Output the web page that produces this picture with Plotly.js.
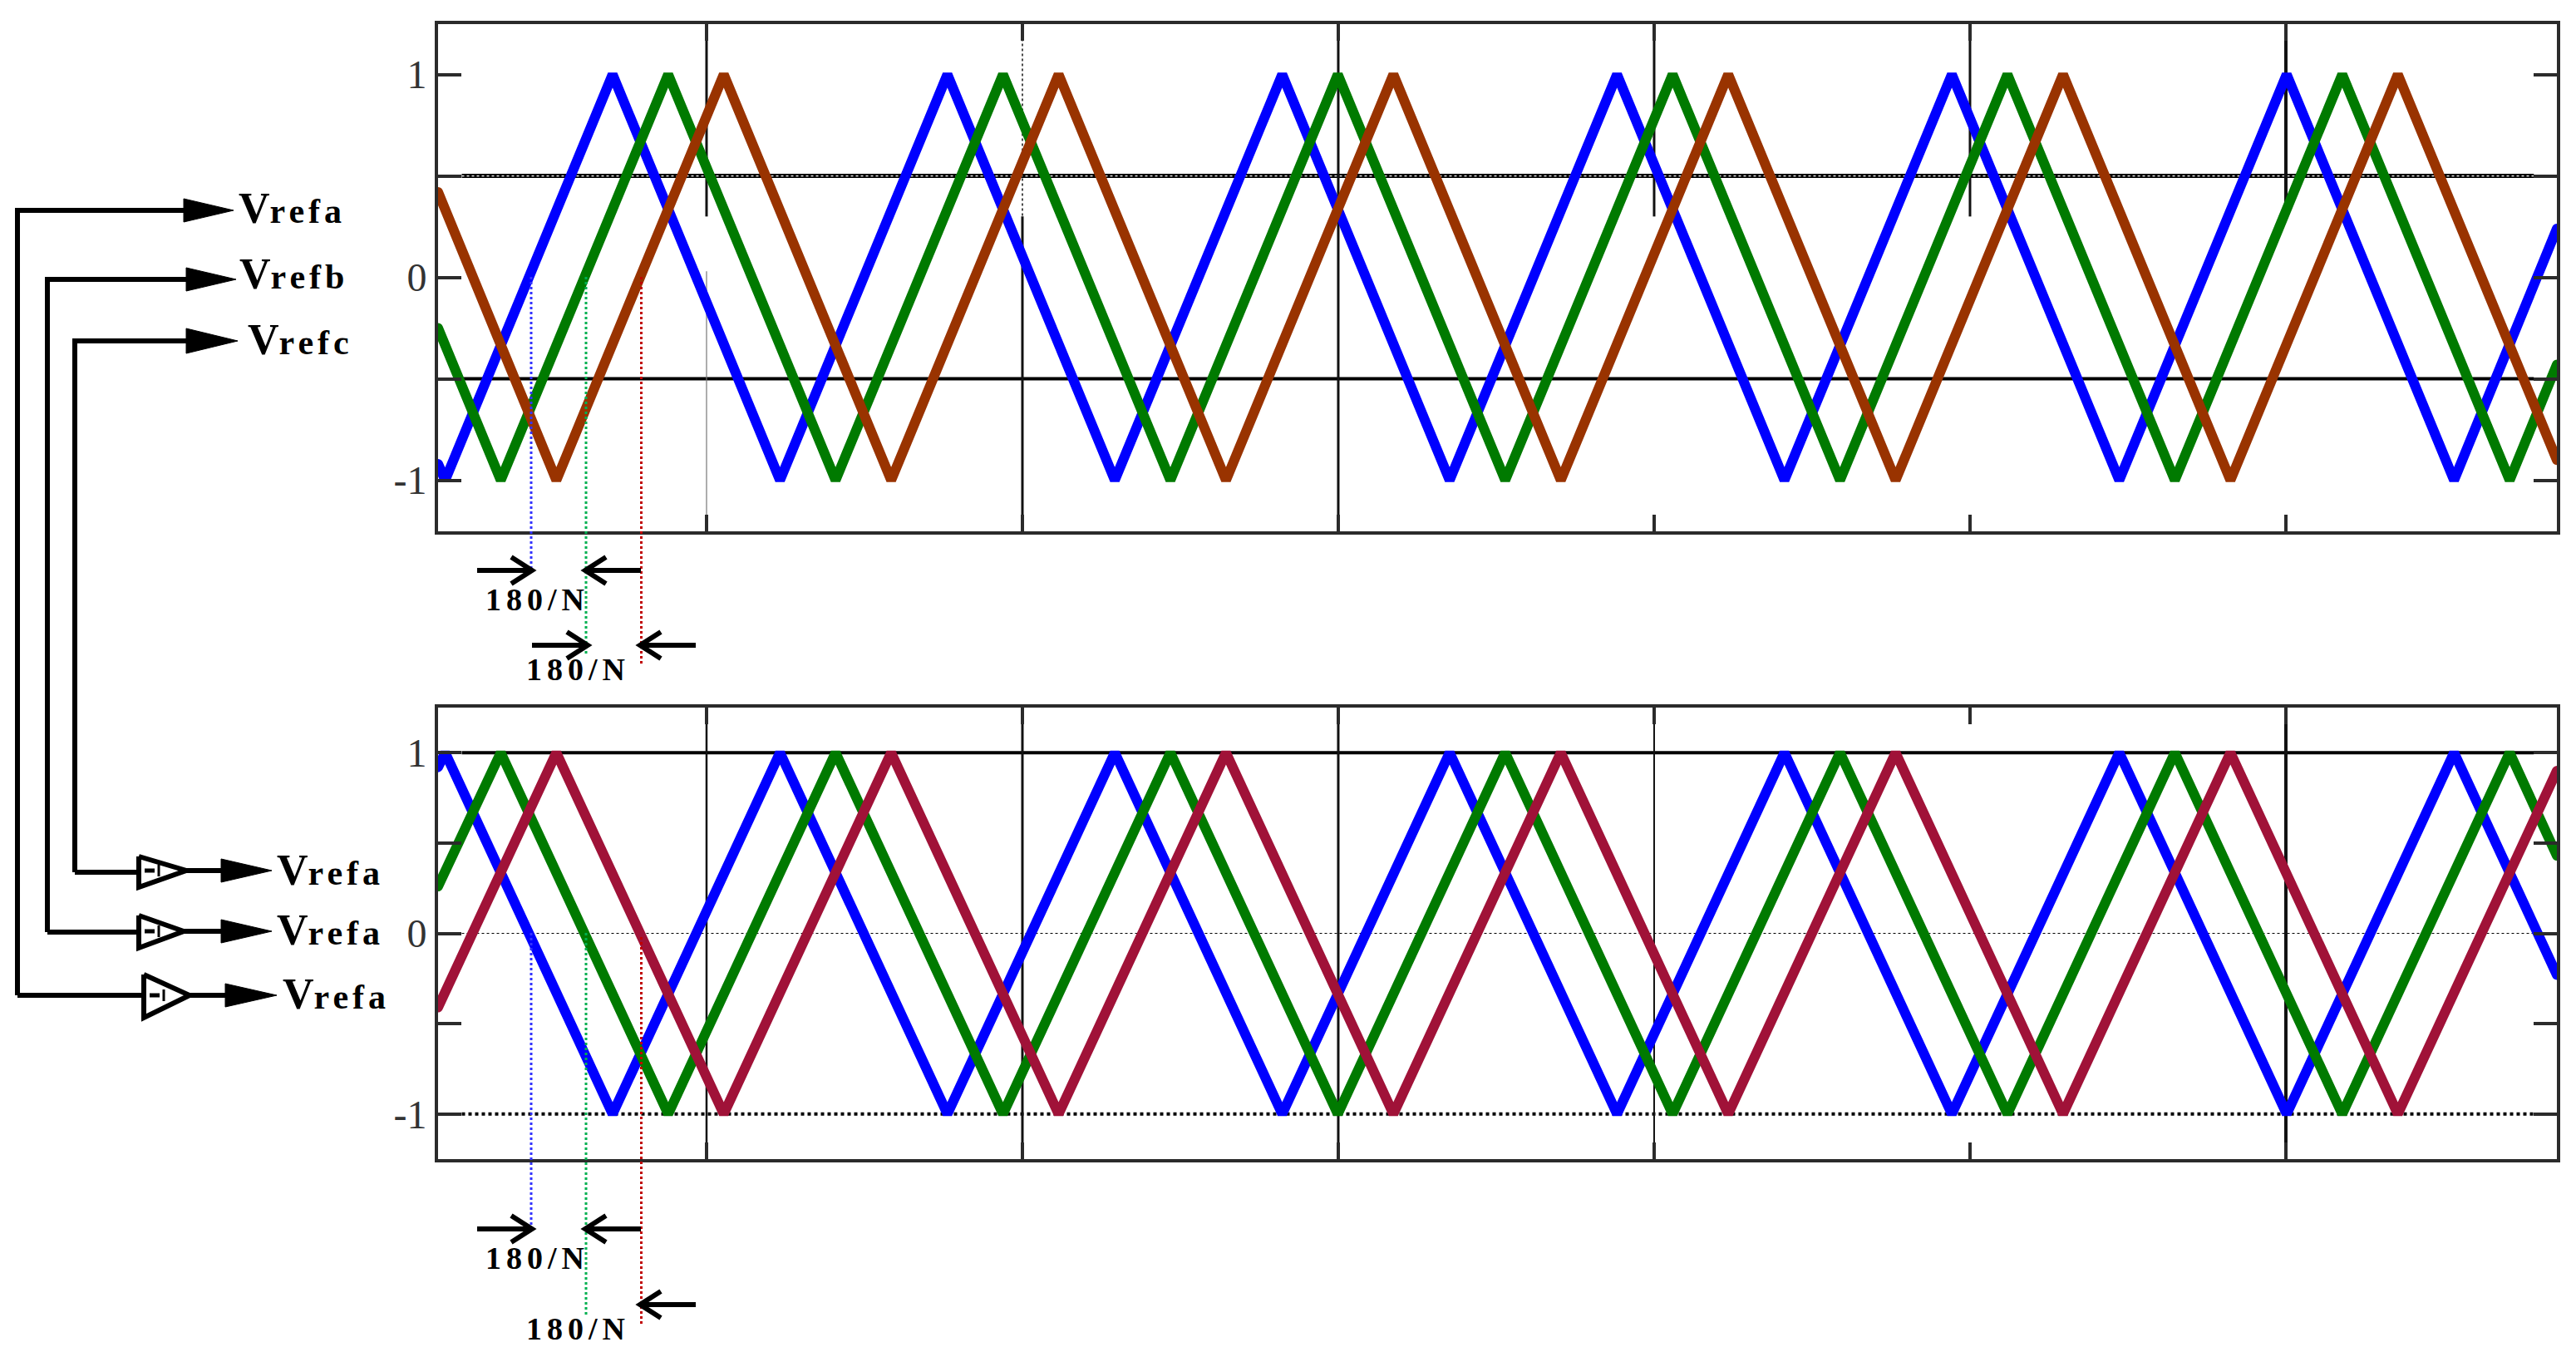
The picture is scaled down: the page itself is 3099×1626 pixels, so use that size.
<!DOCTYPE html>
<html>
<head>
<meta charset="utf-8">
<script src="https://cdn.plot.ly/plotly-3.0.1.min.js"></script>
<style>
html, body { margin: 0; padding: 0; background: #fff; }
#chart { width: 3099px; height: 1626px; }
.js-line { stroke-linecap: round; }
</style>
</head>
<body>
<div id="chart"></div>
<script>
const PAGE_W = 3099;
const PAGE_H = 1626;

// upper panel, vertices
const blueTopX = [0, 0.45, 11.05, 21.65, 32.25, 42.85, 53.45, 64.05, 74.65, 85.25, 95.85, 106.45, 117.05, 127.65, 134.16];
const blueTopY = [-0.92, -1, 1, -1, 1, -1, 1, -1, 1, -1, 1, -1, 1, -1, 0.24];
const greenTopX = [0, 3.97, 14.57, 25.17, 35.77, 46.37, 56.97, 67.57, 78.17, 88.77, 99.37, 109.97, 120.57, 131.17, 134.16];
const greenTopY = [-0.25, -1, 1, -1, 1, -1, 1, -1, 1, -1, 1, -1, 1, -1, -0.43];
const brownTopX = [0, 7.49, 18.09, 28.69, 39.29, 49.89, 60.49, 71.09, 81.69, 92.29, 102.89, 113.49, 124.09, 134.16];
const brownTopY = [0.42, -1, 1, -1, 1, -1, 1, -1, 1, -1, 1, -1, 1, -0.9];

// lower panel
const blueBotX = [0, 0.45, 11.05, 21.65, 32.25, 42.85, 53.45, 64.05, 74.65, 85.25, 95.85, 106.45, 117.05, 127.65, 134.16];
const blueBotY = [0.92, 1, -1, 1, -1, 1, -1, 1, -1, 1, -1, 1, -1, 1, -0.23];
const greenBotX = [0, 3.97, 14.57, 25.17, 35.77, 46.37, 56.97, 67.57, 78.17, 88.77, 99.37, 109.97, 120.57, 131.17, 134.16];
const greenBotY = [0.26, 1, -1, 1, -1, 1, -1, 1, -1, 1, -1, 1, -1, 1, 0.43];
const redBotX = [0, 7.49, 18.09, 28.69, 39.29, 49.89, 60.49, 71.09, 81.69, 92.29, 102.89, 113.49, 124.09, 134.16];
const redBotY = [-0.41, 1, -1, 1, -1, 1, -1, 1, -1, 1, -1, 1, -1, 0.9];

const xTicks = [17, 37, 57, 77, 97, 117];
const yTicks = [-1, -0.5, 0, 0.5, 1];
const yLabels = ["-1", "", "0", "", "1"];

const BLUE = "#0000ff";
const GREEN = "#007a00";
const BROWN = "#993300";
const CRIMSON = "#a01238";
const FRAME = "#2b2b2b";
const SERIF = "Liberation Serif";

// page pixel -> paper fraction
const px = x => x / PAGE_W;
const py = y => 1 - y / PAGE_H;

function wave(x, y, color, xa, ya) {
    return {
        x: x, y: y, xaxis: xa, yaxis: ya,
        mode: "lines", type: "scatter", cliponaxis: false, hoverinfo: "skip",
        line: { color: color, width: 12, shape: "linear" },
    };
}

const traces = [
    wave(blueTopX, blueTopY, BLUE, "x", "y"),
    wave(greenTopX, greenTopY, GREEN, "x", "y"),
    wave(brownTopX, brownTopY, BROWN, "x", "y"),
    wave(blueBotX, blueBotY, BLUE, "x2", "y2"),
    wave(greenBotX, greenBotY, GREEN, "x2", "y2"),
    wave(redBotX, redBotY, CRIMSON, "x2", "y2"),
];

const shapes = [];

function vGrid(xa, ya, x, y0, y1, width, dash, color) {
    shapes.push({
        type: "line", layer: "below", xref: xa, yref: ya, x0: x, x1: x, y0: y0, y1: y1,
        line: { color: color || "#111", width: width, dash: dash || "solid" },
    });
}
function hGrid(xa, ya, y, width, dash, color) {
    shapes.push({
        type: "line", layer: "below", xref: xa, yref: ya, x0: 1.5, x1: 132.7, y0: y, y1: y,
        line: { color: color || "#000", width: width, dash: dash || "solid" },
    });
}

// upper panel grid is broken up in the source
hGrid("x", "y", 0.5, 5);
hGrid("x", "y", 0.5, 1.2, "dot", "#fff");
hGrid("x", "y", -0.5, 4);
vGrid("x", "y", 17, 1.25, 0.3, 3);
vGrid("x", "y", 17, 0.03, -1.25, 1.2, "solid", "#777");
vGrid("x", "y", 37, 1.25, 0.3, 1.5, "dot");
vGrid("x", "y", 37, 0.3, -1.25, 3);
vGrid("x", "y", 57, 1.25, 0.3, 3);
vGrid("x", "y", 57, 0.3, -1.25, 3);
vGrid("x", "y", 77, 1.25, 0.3, 3);
vGrid("x", "y", 97, 1.25, 0.3, 3);
vGrid("x", "y", 117, 1.25, 0.3, 4);

// lower panel
hGrid("x2", "y2", 1, 4);
hGrid("x2", "y2", 0, 1.2, "dot");
hGrid("x2", "y2", -1, 4, "dot");
vGrid("x2", "y2", 17, 1.25, -1.25, 2.5);
vGrid("x2", "y2", 37, 1.25, -1.25, 3);
vGrid("x2", "y2", 57, 1.25, -1.25, 3);
vGrid("x2", "y2", 77, 1.25, -1.25, 2);
vGrid("x2", "y2", 117, 1.25, -1.25, 4);

// connection diagram on the left, page pixels
function polyline(points, width, color, dash) {
    const d = points.map((p, i) => (i ? "L" : "M") + px(p[0]) + "," + py(p[1])).join(" ");
    shapes.push({
        type: "path", xref: "paper", yref: "paper", path: d,
        line: { color: color || "#000", width: width, dash: dash || "solid" },
    });
}
function solidHead(x0, x1, y, half) {
    const d = "M" + px(x0) + "," + py(y - half) + " L" + px(x1) + "," + py(y) + " L" + px(x0) + "," + py(y + half) + " Z";
    shapes.push({ type: "path", xref: "paper", yref: "paper", path: d, fillcolor: "#000", line: { color: "#000", width: 1 } });
}
function buffer(xl, xr, yTop, yBot, yTip, xDash, xBar) {
    polyline([[xl, yTop], [xr, yTip], [xl, yBot], [xl, yTop]], 6);
    polyline([[xDash, yTip], [xDash + 12, yTip]], 5);
    polyline([[xBar, yTip - 7], [xBar, yTip + 7]], 3);
}
function openArrow(xTail, xTip, y) {
    const back = xTip > xTail ? xTip - 25 : xTip + 25;
    polyline([[xTail, y], [xTip, y]], 6);
    polyline([[back, y - 16], [xTip, y], [back, y + 16]], 6);
}

polyline([[21, 1197], [21, 253], [221, 253]], 6);
solidHead(221, 281, 253, 14);
polyline([[57, 1121], [57, 336], [224, 336]], 6);
solidHead(224, 284, 336, 14);
polyline([[90, 1049], [90, 410], [224, 410]], 6);
solidHead(224, 286, 410, 15);

polyline([[90, 1049], [167, 1049]], 6);
buffer(167, 224, 1030, 1067, 1047, 174, 191);
polyline([[224, 1047], [266, 1047]], 6);
solidHead(266, 327, 1047, 14);

polyline([[57, 1121], [167, 1121]], 6);
buffer(167, 221, 1101, 1140, 1120, 174, 191);
polyline([[221, 1120], [266, 1120]], 6);
solidHead(266, 327, 1120, 14);

polyline([[21, 1197], [173, 1197]], 6);
buffer(173, 228, 1172, 1224, 1197, 180, 197);
polyline([[228, 1197], [272, 1197]], 6);
solidHead(271, 333, 1197, 14);

// dropped phase markers
const DROP_BLUE = "#3333ff";
const DROP_GREEN = "#00b050";
const DROP_RED = "#c00000";
polyline([[639, 333], [639, 683]], 3, DROP_BLUE, "dot");
polyline([[705, 333], [705, 789]], 3, DROP_GREEN, "dot");
polyline([[771.5, 333], [771.5, 799]], 3, DROP_RED, "dot");
polyline([[639, 1122], [639, 1476]], 3, DROP_BLUE, "dot");
polyline([[705, 1122], [705, 1583]], 3, DROP_GREEN, "dot");
polyline([[771.5, 1127], [771.5, 1592]], 3, DROP_RED, "dot");

openArrow(574, 640, 686);
openArrow(771, 704, 686);
openArrow(640, 707, 776);
openArrow(837, 770, 776);
openArrow(574, 640, 1478);
openArrow(771, 704, 1478);
openArrow(837, 770, 1569);

// labels, offset so the baseline lands where the picture has it
function vref(x, y, suffix) {
    return {
        xref: "paper", yref: "paper", x: px(x), y: py(y + 14), xanchor: "left", yanchor: "bottom",
        showarrow: false, borderpad: 0,
        font: { family: SERIF, size: 42, color: "#000" },
        text: '<b><span style="font-size:52px">V</span><span style="letter-spacing:5px">' + suffix + "</span></b>",
    };
}
function ratio(x, y) {
    return {
        xref: "paper", yref: "paper", x: px(x), y: py(y + 12), xanchor: "left", yanchor: "bottom",
        showarrow: false, borderpad: 0,
        font: { family: SERIF, size: 38, color: "#000" },
        text: '<b><span style="letter-spacing:6px">180/N</span></b>',
    };
}
const annotations = [
    vref(286, 266, "refa"),
    vref(287, 345, "refb"),
    vref(297, 424, "refc"),
    vref(332, 1062, "refa"),
    vref(332, 1134, "refa"),
    vref(339, 1211, "refa"),
    ratio(583, 731),
    ratio(632, 815),
    ratio(583, 1523),
    ratio(632, 1608),
];

function xAxis(yName) {
    return {
        domain: [px(527), px(3076)], range: [0, 134.16], anchor: yName,
        tickmode: "array", tickvals: xTicks, showticklabels: false,
        ticks: "inside", ticklen: 20, tickwidth: 4, tickcolor: FRAME,
        showgrid: false, zeroline: false, showline: true, linecolor: FRAME, linewidth: 4, mirror: "ticks",
    };
}
function yAxis(xName, top, bottom) {
    return {
        domain: [py(bottom), py(top)], range: [-1.25, 1.25], anchor: xName,
        tickmode: "array", tickvals: yTicks, ticktext: yLabels,
        ticks: "inside", ticklen: 28, tickwidth: 4, tickcolor: FRAME,
        tickfont: { family: SERIF, size: 48, color: "#333" },
        showgrid: false, zeroline: false, showline: true, linecolor: FRAME, linewidth: 4, mirror: "ticks",
    };
}

const layout = {
    width: PAGE_W,
    height: PAGE_H,
    margin: { l: 0, r: 0, t: 0, b: 0 },
    paper_bgcolor: "#fff",
    plot_bgcolor: "#fff",
    showlegend: false,
    xaxis: xAxis("y"),
    yaxis: yAxis("x", 28.6, 638.5),
    xaxis2: xAxis("y2"),
    yaxis2: yAxis("x2", 851, 1394),
    shapes: shapes,
    annotations: annotations,
};

Plotly.newPlot("chart", traces, layout, { displayModeBar: false, staticPlot: true });
</script>
</body>
</html>
